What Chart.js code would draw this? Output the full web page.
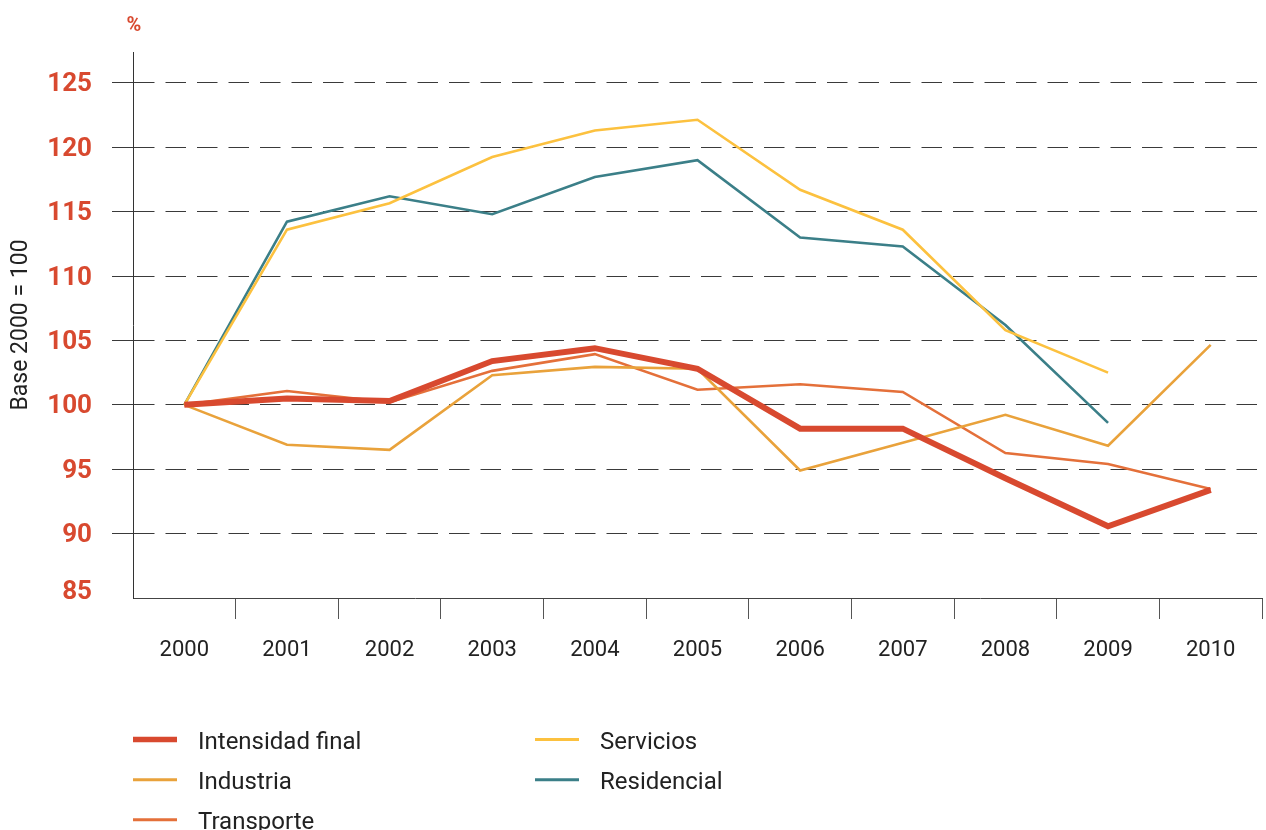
<!DOCTYPE html>
<html>
<head>
<meta charset="utf-8">
<script src="https://cdn.jsdelivr.net/npm/chart.js@4.4.0/dist/chart.umd.min.js"></script>
<style>
  html, body { margin: 0; padding: 0; background: #fff; }
  #wrap { position: relative; width: 1266px; height: 830px; }
</style>
</head>
<body>
<div id="wrap"><canvas id="c" width="1266" height="830"></canvas></div>
<script>
const years = ['2000','2001','2002','2003','2004','2005','2006','2007','2008','2009','2010'];
const intensidadFinal = [100, 100.5, 100.3, 103.4, 104.4, 102.8, 98.15, 98.15, 94.3, 90.57, 93.4];
const industria = [100, 96.9, 96.5, 102.3, 102.95, 102.8, 94.9, 97.06, 99.23, 96.83, 104.66];
const transporte = [100, 101.07, 100.2, 102.64, 103.94, 101.17, 101.6, 101.0, 96.26, 95.4, 93.47];
const servicios = [100, 113.6, 115.65, 119.24, 121.3, 122.14, 116.7, 113.6, 105.8, 102.5, null];
const residencial = [100, 114.22, 116.2, 114.8, 117.7, 119.0, 113.0, 112.3, 106.2, 98.6, null];
const yTickValues = [85, 90, 95, 100, 105, 110, 115, 120, 125];
const seriesNames = ['Intensidad final', 'Industria', 'Transporte', 'Servicios', 'Residencial'];
const unitLabel = '%';
const yTitle = 'Base 2000 = 100';

const RED = '#d8492f';

const legendPlugin = {
  id: 'colLegend',
  afterDraw(chart) {
    const ctx = chart.ctx;
    const cols = [133, 535];
    const rows = [739.5, 779.8, 819.8];
    const baselines = [749, 789, 829];
    const ds = chart.data.datasets;
    ctx.save();
    ds.forEach((d, i) => {
      const col = i < 3 ? 0 : 1;
      const row = i < 3 ? i : i - 3;
      const x = cols[col];
      ctx.beginPath();
      ctx.strokeStyle = d.borderColor;
      ctx.lineWidth = d.borderWidth > 4 ? 5.5 : 3;
      ctx.moveTo(x, rows[row]);
      ctx.lineTo(x + 44, rows[row]);
      ctx.stroke();
      ctx.fillStyle = '#222';
      ctx.font = '24px Roboto';
      ctx.textAlign = 'left';
      ctx.textBaseline = 'alphabetic';
      ctx.fillText(d.label, x + 65, baselines[row]);
    });
    const ys = chart.scales.y;
    ctx.fillStyle = RED;
    ctx.font = 'bold 20px Roboto';
    ctx.textAlign = 'center';
    ctx.textBaseline = 'alphabetic';
    ctx.fillText(unitLabel, ys.right + 1, 31);
    ctx.restore();
  }
};

const colors = [RED, '#e9a23b', '#e4703a', '#fcc13f', '#3b7f88'];
const seriesData = [intensidadFinal, industria, transporte, servicios, residencial];

new Chart(document.getElementById('c'), {
  type: 'line',
  data: {
    labels: years,
    datasets: seriesNames.map((name, i) => ({
      label: name,
      data: seriesData[i],
      borderColor: colors[i],
      backgroundColor: colors[i],
      borderWidth: i === 0 ? 6 : 2.6,
      pointRadius: 0,
      tension: 0,
      fill: false,
      spanGaps: false,
      borderJoinStyle: 'miter',
      borderCapStyle: 'butt'
    }))
  },
  options: {
    responsive: false,
    animation: false,
    devicePixelRatio: 1,
    layout: { padding: { top: 52, right: 4, left: 0, bottom: 0 } },
    plugins: {
      legend: { display: false },
      tooltip: { enabled: false },
      title: { display: false }
    },
    scales: {
      x: {
        type: 'category',
        offset: true,
        afterFit(scale) { scale.height = 232; },
        grid: {
          display: true,
          offset: true,
          drawOnChartArea: false,
          drawTicks: true,
          tickLength: 21,
          tickWidth: 1,
          tickColor: (c) => c.index === 0 ? 'rgba(0,0,0,0)' : '#555'
        },
        border: { display: true, color: '#444', width: 1 },
        ticks: {
          color: '#222',
          font: { family: 'Roboto', size: 22 },
          padding: 18,
          maxRotation: 0,
          autoSkip: false
        }
      },
      y: {
        type: 'linear',
        min: 85,
        max: 127.4,
        afterFit(scale) { scale.width = 133; },
        afterBuildTicks(scale) { scale.ticks = yTickValues.map(v => ({ value: v })); },
        grid: {
          display: true,
          drawOnChartArea: true,
          drawTicks: true,
          tickLength: 21,
          lineWidth: 1,
          color: (c) => (c.tick && c.tick.value === 85) ? 'rgba(0,0,0,0)' : '#3a3a3a',
          tickColor: (c) => (c.tick && c.tick.value === 85) ? 'rgba(0,0,0,0)' : '#3a3a3a'
        },
        border: { display: true, color: '#333', width: 1, dash: [20.5, 11] },
        title: {
          display: true,
          text: yTitle,
          color: '#222',
          font: { family: 'Roboto', size: 23 },
          padding: { top: 7, bottom: 0 }
        },
        ticks: {
          color: RED,
          padding: 20,
          labelOffset: 2,
          font: (c) => ({ family: 'Roboto', size: 26, weight: 'bold', lineHeight: (c.tick && c.tick.value === 85) ? '16px' : 1.2 }),
          callback: (v) => v === 85 ? ['85', ''] : String(v)
        }
      }
    }
  },
  plugins: [legendPlugin]
});
</script>
</body>
</html>
